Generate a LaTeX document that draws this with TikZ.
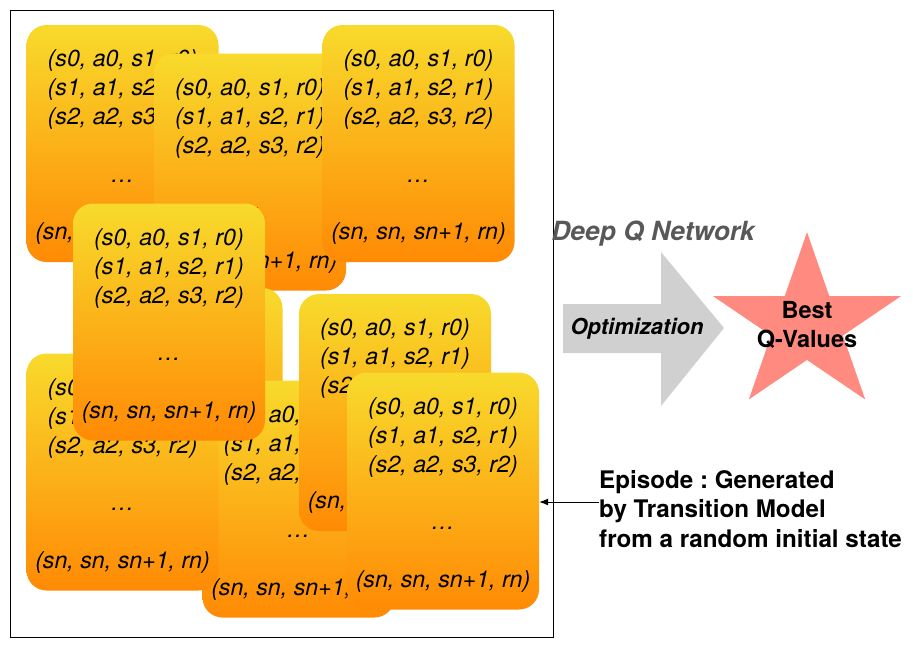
\documentclass[tikz,border=0pt]{standalone}
\usepackage{fontspec}
\setmainfont{TeX Gyre Heros}
\usetikzlibrary{shapes.geometric,arrows.meta}

\definecolor{cardtop}{RGB}{248,218,44}
\definecolor{cardbot}{RGB}{255,138,5}
\definecolor{arrowgray}{RGB}{208,208,208}
\definecolor{starred}{RGB}{255,139,128}
\definecolor{dqngray}{RGB}{88,88,88}

\newcommand{\tuplelist}{\rule{0pt}{24.6pt}(s0, a0, s1, r0)\\(s1, a1, s2, r1)\\(s2, a2, s3, r2)\\[28.8pt]…\\[28.8pt](sn, sn, sn+1, rn)}

\begin{document}
\frenchspacing
\begin{tikzpicture}[x=1pt, y=-1pt,
        episodecard/.style={rectangle, rounded corners=20pt, top color=cardtop, bottom color=cardbot, minimum width=192pt, minimum height=237pt, inner sep=0pt, align=center, font=\itshape\fontsize{23.2}{28.8}\selectfont},
        boldlabel/.style={inner sep=0pt, font=\bfseries\fontsize{24.2}{29.5}\selectfont},
    ]
        \useasboundingbox (0,0) rectangle (913,646);

        % frame
        \draw[line width=1pt] (10.5,10.5) rectangle (553.5,637.5);

        %Cards (back to front)
        \node[episodecard] (epa) at (122.5,143.5) {\tuplelist};
        \node[episodecard] (epb) at (250,172) {\tuplelist};
        \node[episodecard] (epc) at (418.5,143.5) {\tuplelist};
        \node[episodecard] (epx) at (186.5,406.5) {};
        \node[episodecard] (epf) at (298.5,499) {\tuplelist};
        \node[episodecard] (epe) at (122.5,472) {\tuplelist};
        \node[episodecard] (epd) at (169,322) {\tuplelist};
        \node[episodecard] (epg) at (395,412.5) {\tuplelist};
        \node[episodecard] (eph) at (443,491) {\tuplelist};

        %Network
        \fill[arrowgray] (563,304) -- (661,304) -- (661,252) -- (724,328) -- (661,406) -- (661,353) -- (563,353) -- cycle;
        \node[inner sep=0pt, font=\bfseries\itshape\fontsize{26.4}{30}\selectfont, text=dqngray] (dqn) at (653,234) {Deep Q Network};
        \node[inner sep=0pt, font=\bfseries\itshape\fontsize{22}{26}\selectfont] (opt) at (637,329) {Optimization};

        \node[star, star points=5, star point ratio=2.618, minimum size=185pt, inner sep=0pt, fill=starred, xscale=1.07] (star) at (807,324.6) {};
        \node[boldlabel, font=\bfseries\fontsize{23.5}{29}\selectfont, align=center] (best) at (star.center) {Best\\Q-Values};

        %Episode label
        \node[boldlabel, anchor=west, align=left] (episode) at (599,509) {Episode : Generated\\by Transition Model\\from a random initial state};

        %Lines
        \draw[-{Latex[length=9pt,width=7pt]}, line width=1pt] ([yshift=7pt]episode.west) -- ([yshift=7pt]episode.west -| eph.east);
    \end{tikzpicture}
\end{document}
